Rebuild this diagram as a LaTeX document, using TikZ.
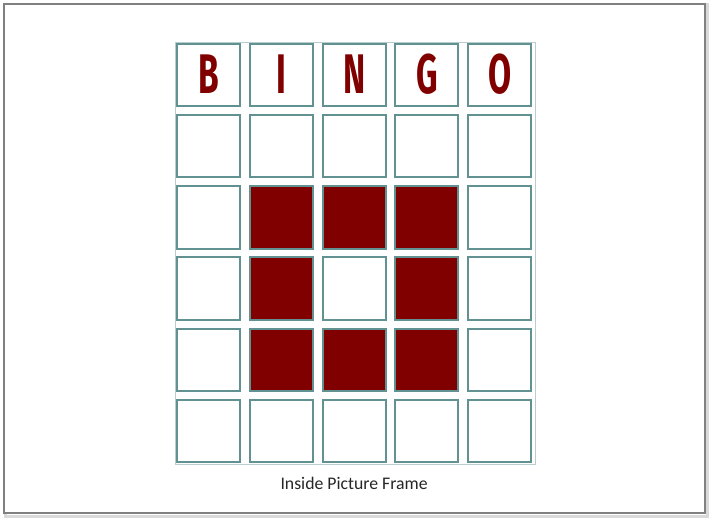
\documentclass[tikz,border=0pt]{standalone}
\usepackage{fontspec}
\setmainfont{Carlito}
\newfontfamily\bingofont{Fira Sans}
\usepackage{tikz}
\usetikzlibrary{positioning}
\definecolor{cR}{RGB}{128,0,0}
\definecolor{cT}{RGB}{98,145,145}
\tikzset{
  cell/.style={draw=cT, line width=2bp, fill=white, minimum width=63bp, minimum height=62bp, inner sep=0pt},
  hit/.style={cell, fill=cR},
  letter/.style={text=cR, font=\bingofont\bfseries\fontsize{56}{56}\selectfont},
  captext/.style={font=\fontsize{17.8}{19}\selectfont, text=black!85}
}
\begin{document}
\begin{tikzpicture}[x=1bp, y=-1bp]
  \useasboundingbox (0,0) rectangle (710,519);
  % page frame
  \draw[black!15, line width=3bp] (5,5) rectangle (707,516);
  \draw[black!50, line width=1.5bp, fill=white] (4,4) rectangle (705,513);
  % table frame
  \draw[cT!45, line width=0.8bp] (175,42) rectangle (535,464);
  \foreach \r in {0,...,5} {
    \foreach \c in {0,...,4} {
      \node[cell] (cell-\r-\c) at ({208.5+72.8*\c},{75.5+71*\r}) {};
    }
  }
  \foreach \r/\c in {2/1,2/2,2/3,3/1,3/3,4/1,4/2,4/3} \node[hit] at (cell-\r-\c) {};
  \foreach \c/\t in {0/B,1/I,2/N,3/G,4/O} \node[letter] at ([yshift=1bp]cell-0-\c) {\scalebox{0.6}[1]{\t}};
  \node[captext] (caption) [below=11bp of cell-5-2] {Inside Picture Frame};
\end{tikzpicture}
\end{document}
